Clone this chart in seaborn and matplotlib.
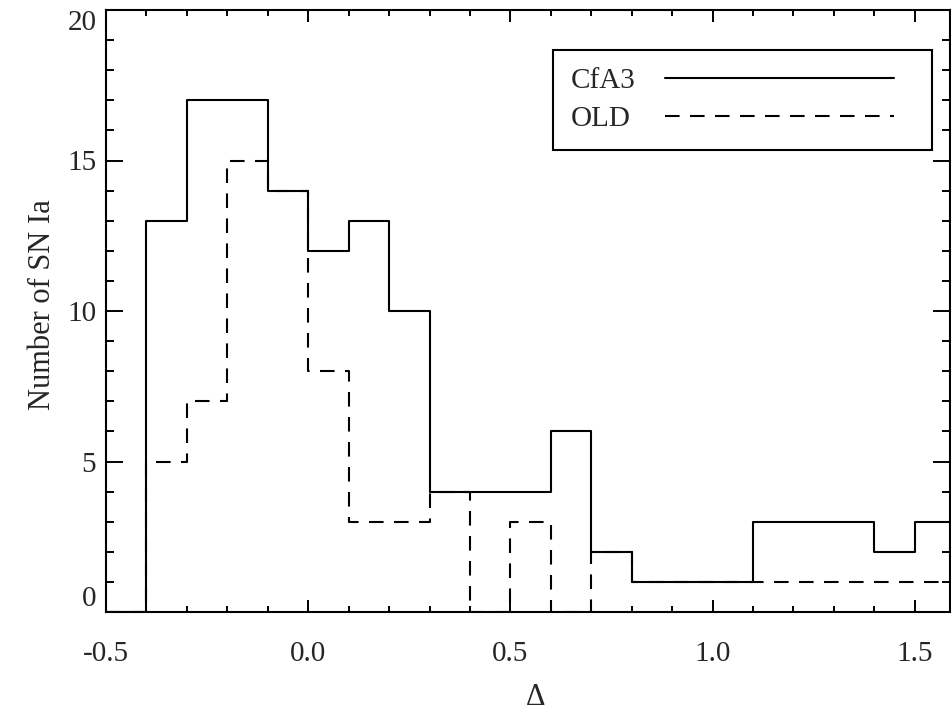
import numpy as np
import pandas as pd
import matplotlib
matplotlib.use("Agg")
import matplotlib.pyplot as plt
from matplotlib.lines import Line2D
from matplotlib.legend_handler import HandlerLine2D
from matplotlib.ticker import MultipleLocator
import seaborn as sns

# Histogram bins in Delta (width 0.1) and counts per bin
bin_left = [-0.5, -0.4, -0.3, -0.2, -0.1, 0.0, 0.1, 0.2, 0.3, 0.4, 0.5,
            0.6, 0.7, 0.8, 0.9, 1.0, 1.1, 1.2, 1.3, 1.4, 1.5]
cfa3_counts = [0, 13, 17, 17, 14, 12, 13, 10, 4, 4, 4,
               6, 2, 1, 1, 1, 3, 3, 3, 2, 3]
old_counts = [0, 5, 7, 15, 14, 8, 3, 3, 4, 0, 3,
              0, 2, 1, 1, 1, 1, 1, 1, 1, 1]
series_labels = ["CfA3", "OLD"]
x_ticks = [-0.5, 0.0, 0.5, 1.0, 1.5]
y_ticks = [0, 5, 10, 15, 20]

width = 0.1
edges = [round(b, 3) for b in bin_left] + [round(bin_left[-1] + width, 3)]
df = pd.DataFrame({
    "delta": np.array(bin_left) + width / 2,
    "cfa3": cfa3_counts,
    "old": old_counts,
})

sns.set_style("ticks")
plt.rcParams["font.family"] = ["Liberation Serif", "DejaVu Serif"]

fig = plt.figure(figsize=(9.51, 7.13), dpi=100)
ax = fig.add_axes([106 / 951, 101 / 713, 844 / 951, 602 / 713])

lw = 1.5
dash = (0, (7, 5))
sns.histplot(data=df, x="delta", weights="old", bins=edges, element="step",
             fill=False, color="black", linewidth=lw, linestyle=dash, ax=ax)
sns.histplot(data=df, x="delta", weights="cfa3", bins=edges, element="step",
             fill=False, color="black", linewidth=lw, ax=ax)

ax.set_xlim(-0.5, 1.587)
ax.set_ylim(0, 20)
ax.set_xticks(x_ticks)
ax.set_xticklabels([f"{t:.1f}" for t in x_ticks])
ax.set_yticks(y_ticks)
ax.xaxis.set_minor_locator(MultipleLocator(0.1))
ax.yaxis.set_minor_locator(MultipleLocator(1))
ax.tick_params(which="both", direction="in", top=True, right=True,
               width=1.4, color="black", labelsize=21)
ax.tick_params(axis="x", which="major", length=8.6, pad=21)
ax.tick_params(axis="x", which="minor", length=4.3)
ax.tick_params(axis="y", which="major", length=12.2, pad=7)
ax.tick_params(axis="y", which="minor", length=6)

# keep the end labels of the y axis inside the axis range
ylabels = ax.get_yticklabels()
ylabels[0].set_verticalalignment("bottom")
ylabels[-1].set_verticalalignment("top")

for sp in ax.spines.values():
    sp.set_linewidth(1.5)
    sp.set_color("black")

ax.set_xlabel("Δ", fontsize=22)
ax.xaxis.set_label_coords(0.509, -0.118)
ax.set_ylabel("Number of SN Ia", fontsize=22)
ax.yaxis.set_label_coords(-0.058, 0.51)


class TrimmedLine(HandlerLine2D):
    """Line handler that leaves empty room at the right end of the handle box."""

    def __init__(self, trim, **kw):
        super().__init__(**kw)
        self.trim = trim

    def create_artists(self, legend, orig_handle, xdescent, ydescent,
                       width, height, fontsize, trans):
        return super().create_artists(legend, orig_handle, xdescent, ydescent,
                                      width - self.trim, height, fontsize, trans)


handles = [Line2D([], [], color="black", linewidth=lw),
           Line2D([], [], color="black", linewidth=lw, linestyle=dash)]
handler = TrimmedLine(trim=14)
leg = ax.legend(handles, series_labels, loc="upper right",
                bbox_to_anchor=((932 - 106) / 844, (612 - 50) / 602),
                borderaxespad=0, frameon=True, fontsize=21, markerfirst=False,
                handlelength=8.55, handletextpad=1.0, borderpad=0.62,
                labelspacing=0.38, fancybox=False, edgecolor="black",
                framealpha=1, handler_map={h: handler for h in handles})
leg.get_frame().set_linewidth(1.5)

# left-align the labels while keeping the sample lines in one column
renderer = fig.canvas.get_renderer()
column = leg._legend_handle_box.get_children()[0]
column.align = "left"
text_w = [t.get_window_extent(renderer).width for t in leg.get_texts()]
for item, w in zip(column.get_children(), text_w):
    item.sep += (max(text_w) - w) * 72 / fig.dpi

fig.savefig("out.png", dpi=100)
